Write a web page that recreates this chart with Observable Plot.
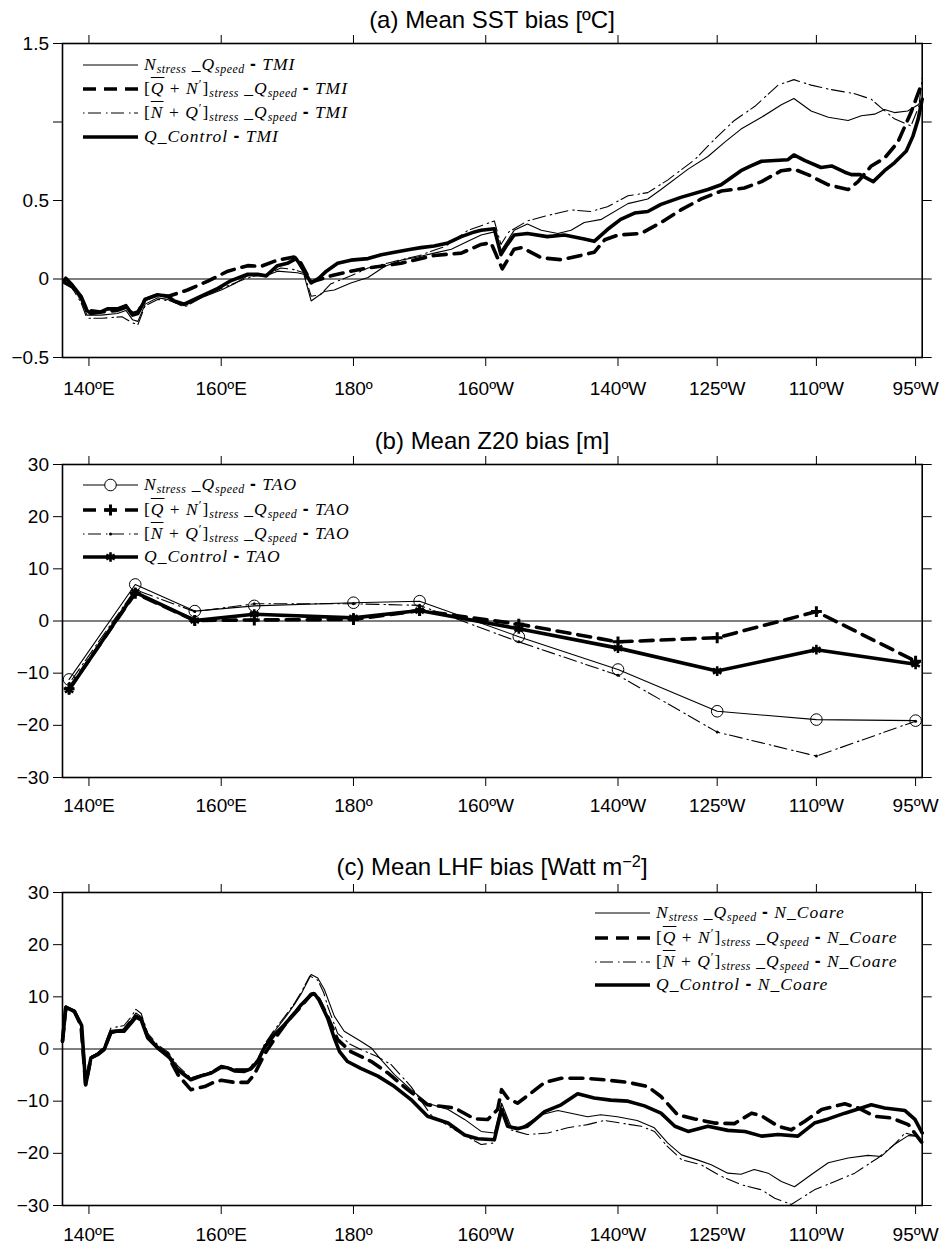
<!DOCTYPE html>
<html><head><meta charset="utf-8">
<script src="https://cdn.jsdelivr.net/npm/d3@7"></script>
<script src="https://cdn.jsdelivr.net/npm/@observablehq/plot@0.6"></script>
<style>
body{margin:0;background:#fff;}
#root{position:relative;width:944px;height:1249px;overflow:hidden;background:#fff;font-family:"Liberation Sans",Arial,sans-serif;}
.panel{position:absolute;left:0;}
.title{position:absolute;left:62px;width:860px;text-align:center;font-size:24px;line-height:24px;white-space:nowrap;color:#000;}
.title sup{font-size:0.68em;line-height:0;vertical-align:0.5em;}
.leg{position:absolute;white-space:nowrap;font-family:"Liberation Serif","Times New Roman",serif;font-size:17.5px;line-height:17.5px;letter-spacing:1px;color:#000;}
.leg i{font-style:italic}
.leg sub{font-size:0.68em;line-height:0;vertical-align:-0.25em;font-style:italic;letter-spacing:0.5px}
.leg sup{font-size:0.7em;line-height:0;vertical-align:0.5em}
.leg .ov{text-decoration:overline}
.leg .dash{font-family:"Liberation Sans",Arial,sans-serif;font-weight:bold;font-style:normal}
.sw{position:absolute;overflow:visible}
</style></head>
<body><div id="root"></div>
<script>
// ---------- axis ticks ----------
const xTicks = [140,160,180,200,220,235,250,265];
const xTickLabels = ["140ºE","160ºE","180º","160ºW","140ºW","125ºW","110ºW","95ºW"];
const sstTicks = [-0.5,0,0.5,1,1.5];
const sstTickLabels = ["\u22120.5","0","0.5","","1.5"];
const biasTicks = [-30,-20,-10,0,10,20,30];
const biasTickLabels = ["\u221230","\u221220","\u221210","0","10","20","30"];

// ---------- titles & legend labels ----------
const titles = ["(a) Mean SST bias [ºC]","(b) Mean Z20 bias [m]","(c) Mean LHF bias [Watt m<sup>\u22122</sup>]"];
const expNames = [
  '<i>N</i><sub>stress</sub> _<i>Q</i><sub>speed</sub>',
  '[<i class="ov">Q</i> + <i>N</i><sup>\u2032</sup>]<sub>stress</sub> _<i>Q</i><sub>speed</sub>',
  '[<i class="ov">N</i> + <i>Q</i><sup>\u2032</sup>]<sub>stress</sub> _<i>Q</i><sub>speed</sub>',
  '<i>Q</i>_<i>Control</i>'
];
const refNames = ['<i>TMI</i>','<i>TAO</i>','<i>N</i>_<i>Coare</i>'];

// ---------- (a) SST bias [lon, value] ----------
const sstN = [[136.2,-0.02],[137.5,-0.05],[138.8,-0.13],[139.7,-0.23],[141.8,-0.23],[144.3,-0.22],[145.6,-0.2],[146.6,-0.26],[147.4,-0.27],[148.5,-0.16],[150.4,-0.12],[151.9,-0.13],[152.9,-0.15],[154.4,-0.17],[157,-0.12],[160,-0.07],[162,-0.03],[164,0.02],[166.8,0.02],[168.5,0.05],[171.5,0.04],[172.5,0.03],[173.6,-0.14],[175.6,-0.08],[177.1,-0.07],[179.6,-0.025],[182.2,0.01],[184.7,0.08],[187.2,0.12],[189.7,0.14],[192.2,0.165],[194.8,0.19],[197.3,0.24],[199.3,0.28],[201.3,0.30],[202.3,0.18],[204.3,0.31],[206.3,0.35],[208.4,0.31],[210.9,0.29],[212.9,0.31],[214.9,0.36],[217.5,0.38],[221.5,0.48],[224.5,0.51],[226.5,0.57],[230.6,0.70],[233.6,0.78],[236.1,0.87],[238.6,0.955],[241.7,1.03],[244.7,1.11],[246.6,1.15],[249.2,1.07],[251.8,1.03],[254.8,1.01],[256.8,1.04],[258.8,1.05],[260.3,1.08],[261.8,1.06],[263.8,1.07],[265.4,1.11],[266,1.145]];
const sstQN = [[136.2,-0.02],[137.5,-0.05],[138.8,-0.12],[139.7,-0.2],[141.8,-0.21],[144.3,-0.2],[145.6,-0.18],[146.6,-0.22],[147.4,-0.21],[148.5,-0.13],[150.4,-0.10],[152,-0.11],[154.9,-0.07],[157.9,-0.015],[161,0.05],[164,0.085],[166,0.08],[168.5,0.12],[171,0.14],[171.8,0.12],[173.6,-0.02],[176.6,0.02],[179.6,0.05],[182.2,0.07],[187.2,0.10],[192.2,0.15],[196.3,0.165],[199.3,0.22],[200.8,0.23],[202.5,0.065],[204.3,0.19],[205.5,0.2],[208.4,0.135],[211.4,0.123],[214.9,0.155],[216.4,0.17],[218,0.25],[220,0.28],[223.5,0.29],[226.5,0.36],[229.5,0.44],[232.6,0.51],[235.6,0.56],[239.1,0.58],[241.7,0.62],[244.7,0.69],[246.6,0.70],[248.7,0.665],[251.8,0.60],[254.8,0.57],[256.3,0.62],[258.3,0.72],[260.3,0.77],[262.3,0.87],[264.3,1.06],[265.8,1.23]];
const sstNQ = [[136.2,-0.02],[137.5,-0.06],[138.8,-0.15],[139.7,-0.25],[142,-0.25],[145,-0.24],[146.6,-0.28],[147.4,-0.29],[148.5,-0.17],[150.4,-0.13],[152.5,-0.14],[154.4,-0.18],[157,-0.12],[160,-0.06],[163,-0.01],[165,0.02],[167,0.03],[169,0.07],[171,0.06],[172.5,0.04],[173.6,-0.11],[175,-0.1],[176.6,-0.03],[179.6,0.02],[182.2,0.07],[186,0.11],[190,0.15],[194,0.21],[197.3,0.31],[200,0.35],[201.3,0.37],[202.3,0.22],[203.5,0.3],[206.3,0.37],[208.9,0.40],[212.9,0.44],[215.9,0.43],[218.4,0.46],[221.5,0.53],[224.5,0.55],[227.5,0.63],[231.6,0.76],[234.6,0.89],[237.6,1.01],[240.7,1.10],[244.2,1.235],[246.6,1.27],[249.2,1.235],[251.8,1.21],[255.8,1.18],[258.3,1.145],[259.8,1.09],[261.8,1.02],[264.3,0.975],[265.5,1.1],[266,1.28]];
const sstCtl = [[136.2,-0.015],[136.5,0.005],[137.5,-0.04],[138.8,-0.11],[139.7,-0.2],[140.3,-0.22],[141.8,-0.21],[142.8,-0.19],[144.3,-0.19],[145.6,-0.17],[146.6,-0.23],[147.4,-0.22],[148.5,-0.13],[150.4,-0.10],[151.9,-0.11],[152.9,-0.14],[154.4,-0.16],[156.9,-0.11],[159.5,-0.06],[161.5,-0.01],[164,0.03],[165.5,0.03],[166.8,0.02],[168.5,0.085],[170,0.10],[171.3,0.13],[171.8,0.10],[173.6,-0.025],[174.8,0.006],[175.9,0.05],[177.6,0.10],[179.6,0.12],[182.2,0.13],[184.2,0.155],[186.2,0.17],[188.7,0.19],[190.2,0.20],[192.2,0.21],[194.3,0.23],[196.3,0.27],[198.3,0.30],[199.3,0.31],[201.3,0.32],[202.3,0.155],[203.1,0.21],[204.3,0.28],[206.3,0.29],[209.3,0.27],[211.9,0.28],[214.9,0.255],[216.4,0.24],[218.4,0.315],[220.4,0.38],[222.5,0.42],[224.5,0.43],[226.5,0.475],[229.5,0.52],[233.6,0.57],[235.6,0.60],[238.6,0.69],[240.1,0.72],[241.7,0.75],[243.7,0.755],[245.7,0.76],[246.6,0.79],[248.2,0.755],[250.7,0.71],[252.3,0.72],[254.3,0.68],[255.3,0.665],[256.6,0.665],[258.6,0.62],[260.3,0.69],[261.8,0.74],[263.6,0.815],[264.6,0.91],[265.4,1.02],[266,1.145]];

// ---------- (b) Z20 bias at TAO longitudes ----------
const z20Lon = [137,147,156,165,180,190,205,220,235,250,265];
const z20N   = [-11.2,7.0,1.9,2.9,3.5,3.8,-3.0,-9.3,-17.3,-18.9,-19.1];
const z20QN  = [-13.0,5.3,0.1,0.2,0.3,2.0,-0.6,-4.0,-3.2,1.8,-7.7];
const z20NQ  = [-12.0,6.0,1.8,3.3,3.3,3.0,-4.0,-10.4,-21.3,-25.9,-19.2];
const z20Ctl = [-13.2,5.5,0.1,1.3,0.6,2.0,-1.5,-5.2,-9.6,-5.5,-8.3];

// ---------- (c) LHF bias [lon, value] ----------
const lhfN = [[136,2],[136.5,8.3],[137.8,7.5],[138.8,4.8],[139.5,-6.5],[140.3,-1.5],[141.3,-0.8],[142.3,0.3],[143.3,3.6],[145.3,3.8],[146.4,5.6],[147.1,6.9],[147.9,6.2],[148.9,2.6],[150.4,0.6],[152,-0.8],[153.4,-3.6],[155.4,-5.6],[157,-5.0],[158.5,-4.4],[160,-3.2],[162,-3.9],[164,-3.9],[165.5,-2.2],[166.5,0.5],[168,3.3],[169.6,5.9],[171.1,8.6],[172.1,10.6],[173.6,14.3],[174.6,13.6],[175.6,11.4],[177.1,6.3],[178.6,3.4],[181.1,1.5],[182.7,0.2],[184.2,-2.1],[186.2,-4.9],[188.7,-7.8],[191.2,-10.4],[194.3,-11.6],[196.8,-13.5],[199.3,-15.8],[201.3,-16.1],[202.4,-10.4],[203.8,-14.8],[205.3,-15.1],[208.4,-12.6],[210.9,-11.8],[212.9,-12.3],[215.4,-13.0],[217.4,-12.6],[219.9,-13.0],[222.9,-13.7],[225.5,-15.1],[227.5,-18.0],[229.6,-20.3],[232.1,-21.3],[234.1,-22.2],[236.6,-23.8],[238.6,-24.0],[240.6,-23.1],[242.7,-23.8],[244.7,-25.4],[246.7,-26.4],[249.2,-24.1],[251.8,-21.8],[254.8,-20.9],[257.8,-20.4],[259.8,-20.6],[261.8,-18.3],[263.9,-16.6],[265.1,-16.7],[266,-17.7]];
const lhfQN = [[136,1.5],[136.5,8.0],[137.8,7.2],[138.8,4.5],[139.5,-6.8],[140.3,-1.7],[141.3,-1.0],[142.3,0],[143.3,3.2],[145.3,3.6],[146.4,5.4],[147.1,6.3],[147.9,5.8],[148.9,2.3],[150.4,0.2],[152,-1.5],[153.5,-5.0],[155.4,-7.8],[157.5,-7.2],[158.7,-6.5],[160,-6.0],[162,-6.4],[164,-6.4],[165,-4.9],[166.5,-1.1],[168,1.8],[170,5.3],[172.1,8.2],[173.6,10.5],[174.1,10.7],[174.8,9.5],[176.1,6.2],[177.6,1.8],[179.6,-0.5],[182.7,-2.4],[185.2,-4.6],[188.2,-7.8],[191.2,-10.7],[195.3,-11.3],[198.3,-13.4],[200.3,-13.5],[201.8,-11.6],[202.4,-7.8],[203.3,-9.4],[204.8,-10.4],[206.9,-8.4],[208.9,-6.4],[211.4,-5.6],[214.9,-5.6],[217.9,-5.9],[221.5,-6.4],[224.5,-7.2],[226.5,-9.1],[229.0,-12.6],[231.6,-13.4],[234.6,-14.2],[237.6,-14.3],[240.2,-12.3],[241.7,-12.8],[244.2,-14.8],[246.2,-15.5],[248.2,-13.9],[250.8,-11.6],[254.3,-10.5],[256.3,-11.3],[258.8,-12.9],[261.3,-13.2],[263.9,-14.5],[266,-18.0]];
const lhfNQ = [[136,2],[136.5,8.0],[137.8,7.4],[138.8,4.6],[139.5,-6.6],[140.3,-1.5],[141.3,-0.8],[142.3,0.5],[143.3,4.0],[145.3,4.5],[146.4,6.2],[147.1,7.6],[147.9,6.8],[148.9,3.0],[150.4,0.8],[152,-0.6],[153.4,-3.2],[155.4,-5.5],[157,-4.9],[158.5,-4.3],[160,-3.1],[162,-3.8],[164,-3.8],[165.5,-2.0],[166.5,0.8],[168,3.6],[169.6,6.2],[171.1,8.8],[172.1,10.9],[173.4,14.0],[174.6,13.2],[175.5,10.8],[176.1,8.2],[177.6,3.0],[179.5,0.9],[181.1,-0.1],[183.5,-1.4],[185.7,-3.0],[188.7,-7.2],[191.7,-12.6],[195.3,-15.5],[199.3,-18.3],[201.3,-18.0],[202.4,-10.7],[203.8,-15.5],[206.3,-16.4],[209.4,-16.1],[212.4,-15.1],[215.4,-14.5],[217.9,-13.7],[220.4,-14.2],[223.5,-14.8],[225.5,-15.8],[227.5,-18.7],[229.6,-21.2],[232.6,-22.2],[235.6,-24.4],[238.6,-26.0],[241.7,-27.0],[243.7,-28.6],[246.2,-29.8],[249.7,-27.0],[252.8,-25.4],[255.8,-23.8],[259.3,-20.9],[261.8,-18.3],[263.4,-16.1],[264.9,-16.6],[266,-17.4]];
const lhfCtl = [[136,1.5],[136.5,8.0],[137.8,7.2],[138.5,5.5],[138.9,4.5],[139.5,-6.9],[140.3,-1.7],[141.3,-1.1],[142.3,-0.1],[143.3,3.1],[144.1,3.4],[145.3,3.4],[146.4,5.0],[147.1,6.1],[147.9,5.6],[148.9,2.1],[150.4,0.2],[151.9,-1.1],[153.4,-4.0],[155.4,-5.9],[156.9,-5.2],[158.5,-4.6],[160,-3.5],[161,-3.6],[162,-4.2],[163.5,-4.3],[164.5,-3.8],[165.5,-2.4],[166.5,0.2],[168,2.7],[169.6,4.7],[171.1,6.9],[172.1,8.5],[173.6,10.4],[174.1,10.6],[174.8,9.4],[176.1,5.9],[177.1,2.1],[177.9,-0.5],[179.1,-2.4],[181.1,-3.7],[183.7,-5.2],[186.2,-7.2],[188.7,-9.7],[191.2,-12.9],[194.3,-14.2],[196.8,-16.5],[198.8,-17.2],[201.3,-17.4],[202.4,-11.6],[203.3,-14.8],[204.8,-15.3],[206.3,-14.8],[208.9,-12.0],[211.4,-10.7],[213.9,-8.6],[216.4,-9.4],[218.9,-9.8],[221.5,-10.0],[224.0,-10.9],[226.5,-12.3],[228.6,-14.8],[230.6,-15.8],[233.6,-14.8],[236.6,-15.6],[239.2,-15.8],[241.7,-16.7],[244.2,-16.4],[247.2,-16.7],[249.7,-14.2],[251.8,-13.4],[254.3,-12.3],[256.8,-11.3],[258.3,-10.7],[260.3,-11.3],[263.4,-11.8],[264.9,-13.5],[266,-16.1]];

// ---------- styles ----------
const STY = [
  {w:1.1, dash:null, sym:"circle", r:5.8, fill:"none", sw:1},
  {w:3.6, dash:"13,8", sym:"plus", r:3.6, fill:"none", sw:3},
  {w:1.1, dash:"1.5,3.5,13,5", sym:"circle", r:1.5, fill:"black", sw:0},
  {w:3.6, dash:null, sym:"asterisk", r:4.6, fill:"none", sw:2.6}
];

const pairsToRows = p => p.map(([lon,v]) => ({lon, v}));
const root = document.getElementById("root");

function makePanel(cfg) {
  const marks = [Plot.ruleY([0], {stroke:"black", strokeWidth:1.2})];
  cfg.series.forEach((data, i) => {
    const s = STY[i];
    marks.push(Plot.line(data, {x:"lon", y:"v", stroke:"black", strokeWidth:s.w, strokeDasharray:s.dash, strokeLinejoin:"round"}));
    if (cfg.markers) {
      marks.push(Plot.dot(data, {x:"lon", y:"v", symbol:s.sym, r:s.r, stroke: s.sw ? "black" : "none", strokeWidth:s.sw, fill:s.fill}));
    }
  });
  const yLab = new Map(cfg.yTicks.map((t,i)=>[t, cfg.yLabels[i]]));
  const xLab = new Map(xTicks.map((t,i)=>[t, xTickLabels[i]]));
  marks.push(
    Plot.frame({stroke:"black", strokeWidth:1.6}),
    Plot.axisY({anchor:"left", ticks:cfg.yTicks, tickFormat:d=>yLab.get(d), tickSize:9, tickPadding:4.5, label:null, fontSize:19}),
    Plot.axisY({anchor:"right", ticks:cfg.yTicks, tickFormat:()=>"", tickSize:9, label:null}),
    Plot.axisX({anchor:"bottom", ticks:xTicks, tickFormat:d=>xLab.get(d), tickSize:9, tickPadding:cfg.xPad, label:null, fontSize:19}),
    Plot.axisX({anchor:"top", ticks:xTicks, tickFormat:()=>"", tickSize:9, label:null})
  );
  const svg = Plot.plot({
    width:944, height:cfg.height,
    marginLeft:62, marginRight:22.3, marginTop:43, marginBottom:cfg.height - 43 - cfg.frameH,
    x:{domain:[136,266]}, y:{domain:cfg.yDomain},
    style:{fontFamily:"'Liberation Sans', Arial, sans-serif", fontSize:"19px", color:"black", background:"white", overflow:"visible"},
    marks
  });
  const holder = document.createElement("div");
  holder.className = "panel";
  holder.style.top = cfg.top + "px";
  holder.appendChild(svg);
  root.appendChild(holder);

  // title (baseline a little above the frame)
  const t = document.createElement("div");
  t.className = "title";
  t.innerHTML = cfg.title;
  t.style.top = (cfg.top + 43 - cfg.titleGap - 20.3) + "px";
  root.appendChild(t);

  // legend
  cfg.legendRows.forEach((yOff, i) => {
    const s = STY[i];
    const yc = cfg.top + 43 + yOff;
    const ns = "http://www.w3.org/2000/svg";
    const sv = document.createElementNS(ns, "svg");
    sv.setAttribute("class","sw");
    sv.setAttribute("width", 56); sv.setAttribute("height", 16);
    sv.style.left = cfg.legX + "px"; sv.style.top = (yc - 8) + "px";
    const ln = document.createElementNS(ns, "line");
    ln.setAttribute("x1",0); ln.setAttribute("x2",55); ln.setAttribute("y1",8); ln.setAttribute("y2",8);
    ln.setAttribute("stroke","black"); ln.setAttribute("stroke-width", s.w);
    if (s.dash) ln.setAttribute("stroke-dasharray", s.dash);
    sv.appendChild(ln);
    if (cfg.markers) {
      const symMap = {circle:d3.symbolCircle, plus:d3.symbolPlus, asterisk:d3.symbolAsterisk};
      const p = document.createElementNS(ns, "path");
      p.setAttribute("d", d3.symbol(symMap[s.sym], s.r*s.r*Math.PI)());
      p.setAttribute("transform","translate(27.5,8)");
      p.setAttribute("fill", s.sym === "circle" && s.fill === "none" ? "white" : s.fill);
      p.setAttribute("stroke", s.sw ? "black" : "none");
      p.setAttribute("stroke-width", s.sw);
      sv.appendChild(p);
    }
    root.appendChild(sv);
    const tx = document.createElement("div");
    tx.className = "leg";
    tx.innerHTML = expNames[i] + ' <span class="dash">-</span> ' + cfg.refName;
    tx.style.left = (cfg.legX + 61) + "px";
    tx.style.top = (yc + 6 - 14.66) + "px";
    root.appendChild(tx);
  });
}

makePanel({
  top:0, height:407, frameH:314, yDomain:[-0.5,1.5], yTicks:sstTicks, yLabels:sstTickLabels, xPad:15,
  series:[sstN, sstQN, sstNQ, sstCtl].map(pairsToRows), markers:false,
  title:titles[0], titleGap:15, legX:83, legendRows:[22,46,70,93.5], refName:refNames[0]
});
makePanel({
  top:421, height:406, frameH:313, yDomain:[-30,30], yTicks:biasTicks, yLabels:biasTickLabels, xPad:11.5,
  series:[z20N, z20QN, z20NQ, z20Ctl].map(vals => vals.map((v,i)=>({lon:z20Lon[i], v}))), markers:true,
  title:titles[1], titleGap:15, legX:83, legendRows:[21,45.5,69.5,92.5], refName:refNames[1]
});
makePanel({
  top:849, height:400, frameH:313, yDomain:[-30,30], yTicks:biasTicks, yLabels:biasTickLabels, xPad:13,
  series:[lhfN, lhfQN, lhfNQ, lhfCtl].map(pairsToRows), markers:false,
  title:titles[2], titleGap:17, legX:595, legendRows:[21,46,70,93], refName:refNames[2]
});
</script></body></html>
